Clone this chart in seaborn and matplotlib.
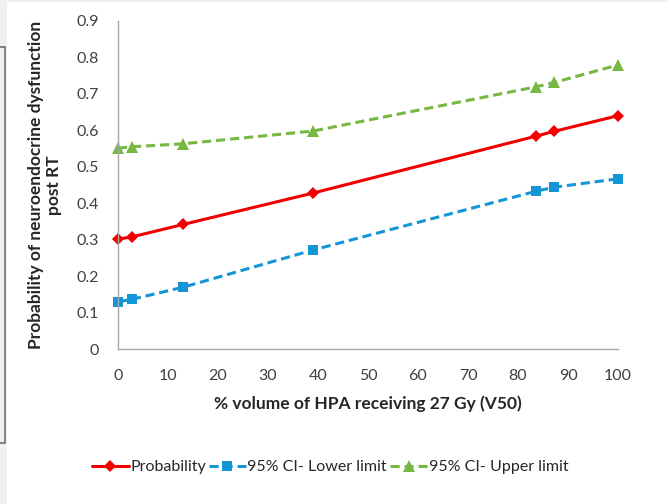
import matplotlib
matplotlib.use("Agg")
import matplotlib.pyplot as plt
from matplotlib.patches import Rectangle
import seaborn as sns
import pandas as pd

# ---- data ----
volume = [0, 2.8, 13, 39, 83.6, 87.2, 100]
probability = [0.302, 0.308, 0.342, 0.428, 0.584, 0.597, 0.640]
ci_lower = [0.130, 0.137, 0.170, 0.272, 0.433, 0.444, 0.467]
ci_upper = [0.551, 0.555, 0.563, 0.598, 0.719, 0.731, 0.779]
series_names = ["Probability", "95% CI- Lower limit", "95% CI- Upper limit"]
x_ticks = [0, 10, 20, 30, 40, 50, 60, 70, 80, 90, 100]
y_ticks = [0, 0.1, 0.2, 0.3, 0.4, 0.5, 0.6, 0.7, 0.8, 0.9]
x_label = "% volume of HPA receiving 27 Gy (V50)"
y_label = "Probability of neuroendocrine dysfunction\npost RT"

sns.set_style("white")
plt.rcParams["font.family"] = ["Lato", "DejaVu Sans"]

W, H = 667, 504
fig = plt.figure(figsize=(W / 100, H / 100), dpi=100, facecolor="white")
# light grey strips at left and top, and partial outline box at left
fig.patches.append(Rectangle((0, 0), 7 / W, 1, transform=fig.transFigure,
                             facecolor="#f0f0f0", edgecolor="none", zorder=-5))
fig.patches.append(Rectangle((0, 1 - 2 / H), 1, 2 / H, transform=fig.transFigure,
                             facecolor="#f0f0f0", edgecolor="none", zorder=-5))
fig.patches.append(Rectangle((-20 / W, 1 - 443 / H), 24.5 / W, (443 - 47) / H,
                             transform=fig.transFigure, facecolor="none",
                             edgecolor="#6e6e6e", linewidth=1.2, zorder=-4))

ax = fig.add_axes([118 / W, 1 - 349.3 / H, 500 / W, (349.3 - 20.8) / H])
ax.set_facecolor("none")

df = pd.DataFrame({"x": volume, "p": probability, "lo": ci_lower, "hi": ci_upper})
colors = ["#f00000", "#1496d6", "#77b843"]
styles = [("p", "-", "D", 6), ("lo", (0, (3, 1.6)), "s", 7.5), ("hi", (0, (3, 1.6)), "^", 8)]
for (col, ls, mk, ms), c, name in zip(styles, colors, series_names):
    sns.lineplot(data=df, x="x", y=col, ax=ax, color=c, linestyle=ls, linewidth=2.2,
                 marker=mk, markersize=ms, markeredgewidth=0, markerfacecolor=c,
                 label=name, legend=False, clip_on=False)

ax.set_xlim(0, 100)
ax.set_ylim(0, 0.9)
ax.set_xticks(x_ticks)
ax.set_yticks(y_ticks)
ax.set_xticklabels([str(t) for t in x_ticks])
ax.set_yticklabels(["0"] + [f"{t:.1f}" for t in y_ticks[1:]])
for s in ["top", "right"]:
    ax.spines[s].set_visible(False)
for s in ["left", "bottom"]:
    ax.spines[s].set_color("#a6a6a6")
    ax.spines[s].set_linewidth(1.0)
ax.tick_params(axis="both", which="major", direction="out", length=5, width=1,
               color="#a6a6a6", labelsize=11.5, labelcolor="#404040")
ax.tick_params(axis="x", pad=9)
ax.tick_params(axis="y", pad=9)
ax.set_xlabel(x_label, fontsize=12.5, fontweight="bold", color="#262626", labelpad=9)
ax.set_ylabel(y_label, fontsize=12.5, fontweight="bold", color="#262626", labelpad=10,
              linespacing=1.2)

handles, labels = ax.get_legend_handles_labels()
fig.legend(handles, labels, loc="center", bbox_to_anchor=(330 / W, 1 - 467 / H),
           ncol=3, frameon=False, fontsize=11.5, handlelength=2.3, columnspacing=0.2,
           handletextpad=0.1, labelcolor="#262626")

fig.savefig("out.png", dpi=100, facecolor=fig.get_facecolor())
